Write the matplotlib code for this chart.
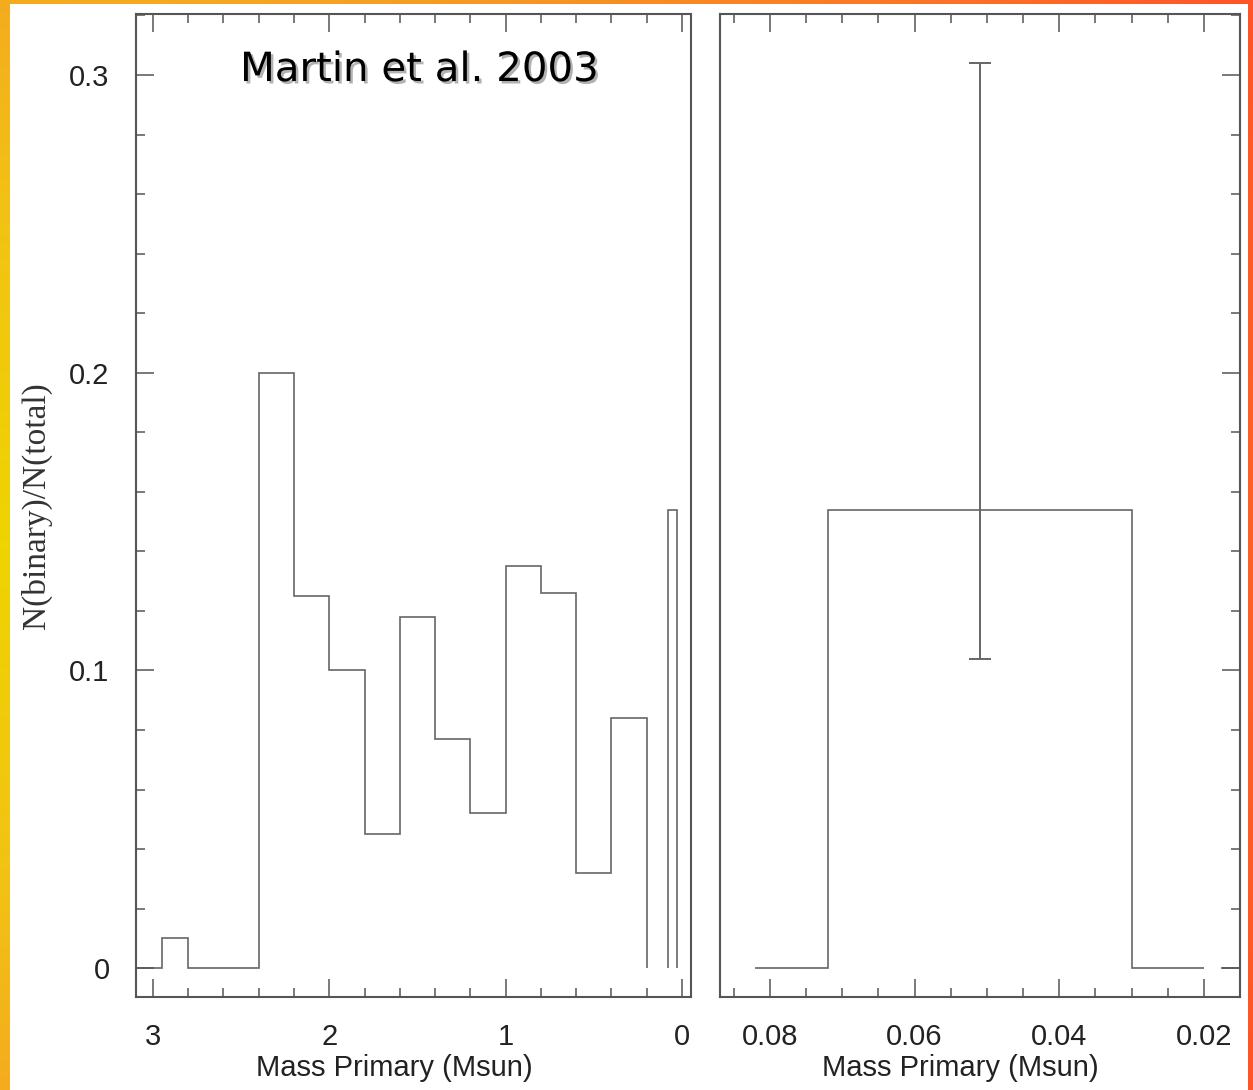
import matplotlib
matplotlib.use("Agg")
import matplotlib.pyplot as plt
import matplotlib.patheffects as pe
import numpy as np
from matplotlib.colors import LinearSegmentedColormap
from matplotlib.patches import Rectangle
from matplotlib.ticker import MultipleLocator

# left panel: binary fraction per primary-mass bin (Msun), ascending edges
left_edges = [0.2, 0.4, 0.6, 0.8, 1.0, 1.2, 1.4, 1.6, 1.8, 2.0, 2.2, 2.4, 2.8, 2.95, 3.1]
left_fracs = [0.084, 0.032, 0.126, 0.135, 0.052, 0.077, 0.118, 0.045, 0.100,
              0.125, 0.200, 0.0, 0.010, 0.0]
bd_edges = [0.03, 0.08]
bd_fracs = [0.154]

# right panel: brown dwarf zoom
right_edges = [0.020, 0.030, 0.072, 0.082]
right_fracs = [0.0, 0.154, 0.0]
tail_edges = [0.0149, 0.0176]
tail_fracs = [0.0]
err_x = 0.051
err_mid = 0.154
err_lo = 0.104
err_hi = 0.304

W, H = 1253, 1090
fig = plt.figure(figsize=(W / 100, H / 100), dpi=100)

# orange frame behind everything, yellow glow at left middle
bg = fig.add_axes([0, 0, 1, 1], zorder=-10)
cmap = LinearSegmentedColormap.from_list(
    "frame", [(0.0, "#eed400"), (0.25, "#f2c214"), (0.45, "#f5a422"),
              (0.75, "#fa7a26"), (1.0, "#ff5428")])
gx, gy = np.meshgrid(np.linspace(0, 1, 300), np.linspace(0, 1, 260))
r = np.sqrt(gx ** 2 + ((gy - 0.5) * H / W) ** 2) / 1.09
bg.imshow(r, cmap=cmap, vmin=0, vmax=1, aspect="auto", extent=[0, 1, 0, 1], origin="lower")
bg.add_patch(Rectangle((10 / W, 0), (1248 - 10) / W, (H - 4) / H, facecolor="white",
                       edgecolor="none", transform=bg.transAxes))
bg.set_xlim(0, 1)
bg.set_ylim(0, 1)
bg.axis("off")

spine_col = "#555555"
line_col = "#666666"
tick_font = dict(family="Liberation Sans", size=21, color="#222222")


def style(ax, left_ticks, right_ticks):
    for s in ax.spines.values():
        s.set_color(spine_col)
        s.set_linewidth(1.5)
    ax.tick_params(which="both", direction="in", top=True, bottom=True,
                   left=left_ticks, right=right_ticks, labelleft=left_ticks,
                   color=spine_col, width=1.1, pad=19)
    ax.tick_params(which="major", length=13)
    ax.tick_params(which="minor", length=6.5)
    for lab in ax.get_xticklabels() + ax.get_yticklabels():
        lab.set_fontfamily(tick_font["family"])
        lab.set_fontsize(tick_font["size"])
        lab.set_color(tick_font["color"])


ax1 = fig.add_axes([136 / W, 93 / H, 555 / W, 983 / H])
ax1.stairs(left_fracs, left_edges, baseline=0, color=line_col, lw=1.2)
ax1.stairs(bd_fracs, bd_edges, baseline=0, color=line_col, lw=1.2)
ax1.set_xlim(3.096, -0.051)
ax1.set_ylim(-0.0097, 0.3205)
ax1.xaxis.set_major_locator(MultipleLocator(1))
ax1.xaxis.set_minor_locator(MultipleLocator(0.2))
ax1.yaxis.set_major_locator(MultipleLocator(0.1))
ax1.yaxis.set_minor_locator(MultipleLocator(0.02))
ax1.set_xticks([3, 2, 1, 0])
ax1.set_xticklabels(["3", "2", "1", "0"])
ax1.set_yticks([0, 0.1, 0.2, 0.3])
ax1.set_yticklabels(["0", "0.1", "0.2", "0.3"])
style(ax1, True, False)
ax1.set_xlabel("Mass Primary (Msun)", family="Liberation Sans", fontsize=21,
               color="#222222")
ax1.xaxis.set_label_coords(0.465, -0.058)
ax1.set_ylabel("N(binary)/N(total)", family="Liberation Serif", fontsize=24,
               color="#333333")
ax1.yaxis.set_label_coords(-0.151, 0.5)
ax1.text(0.51, 0.943, "Martin et al. 2003", transform=ax1.transAxes, ha="center",
         va="center", family="DejaVu Sans", fontsize=29, color="black",
         path_effects=[pe.withSimplePatchShadow(offset=(1.8, -1.8), shadow_rgbFace="#aaaaaa",
                                                 alpha=0.9)])

ax2 = fig.add_axes([720 / W, 93 / H, 520 / W, 983 / H])
ax2.stairs(right_fracs, right_edges, baseline=0, color=line_col, lw=1.2)
ax2.stairs(tail_fracs, tail_edges, baseline=0, color=line_col, lw=1.2)
ax2.errorbar([err_x], [err_mid], yerr=[[err_mid - err_lo], [err_hi - err_mid]],
             fmt="none", ecolor=line_col, elinewidth=1.4, capsize=8, capthick=1.4)
ax2.set_xlim(0.0869, 0.015)
ax2.set_ylim(-0.0097, 0.3205)
ax2.xaxis.set_minor_locator(MultipleLocator(0.005))
ax2.yaxis.set_major_locator(MultipleLocator(0.1))
ax2.yaxis.set_minor_locator(MultipleLocator(0.02))
ax2.set_xticks([0.08, 0.06, 0.04, 0.02])
ax2.set_xticklabels(["0.08", "0.06", "0.04", "0.02"])
style(ax2, False, True)
ax2.set_xlabel("Mass Primary (Msun)", family="Liberation Sans", fontsize=21,
               color="#222222")
ax2.xaxis.set_label_coords(0.463, -0.058)

fig.savefig("out.png", dpi=100)
